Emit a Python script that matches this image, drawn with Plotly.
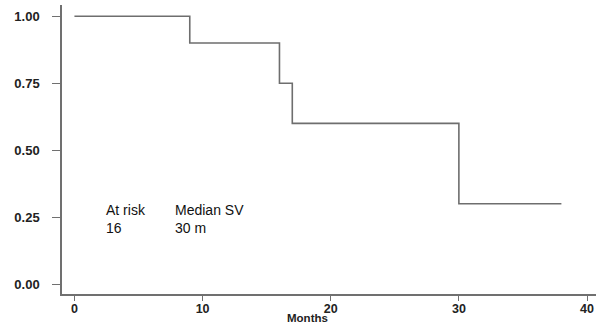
import plotly.graph_objects as go

# Kaplan-Meier step data
months = [0, 9, 16, 17, 30, 38]
survival = [1.00, 0.90, 0.75, 0.60, 0.30, 0.30]

x_ticks = [0, 10, 20, 30, 40]
y_ticks = [0.00, 0.25, 0.50, 0.75, 1.00]
y_tick_labels = ["0.00", "0.25", "0.50", "0.75", "1.00"]

at_risk_label = "At risk"
at_risk_value = "16"
median_label = "Median SV"
median_value = "30 m"

fig = go.Figure()
fig.add_trace(go.Scatter(
    x=months, y=survival, mode="lines",
    line=dict(shape="hv", color="#6e6e6e", width=1.6),
    hoverinfo="skip", showlegend=False,
))

fig.add_annotation(x=2.3, y=0.315, xref="x", yref="y", xanchor="left", yanchor="top",
                   text=f"{at_risk_label}<br>{at_risk_value}", showarrow=False, align="left",
                   font=dict(family="Arial, Liberation Sans", size=14, color="#111"))
fig.add_annotation(x=7.7, y=0.315, xref="x", yref="y", xanchor="left", yanchor="top",
                   text=f"{median_label}<br>{median_value}", showarrow=False, align="left",
                   font=dict(family="Arial, Liberation Sans", size=14, color="#111"))
fig.add_annotation(x=18.2, y=0, xref="x", yref="paper", yshift=-16, xanchor="center", yanchor="top",
                   text="<b>Months</b>", showarrow=False,
                   font=dict(family="Arial, Liberation Sans", size=11.5, color="#222"))

fig.update_xaxes(range=[-0.97, 40.7], tickvals=x_ticks, ticks="outside", ticklen=5,
                 tickcolor="#707070", showline=True, linecolor="#707070", linewidth=1.5,
                 showgrid=False, zeroline=False, automargin=False, ticklabelstandoff=-3,
                 tickfont=dict(family="Arial, Liberation Sans", size=12.5, color="#222", weight="bold"))
fig.update_yaxes(range=[-0.037, 1.042], tickvals=y_ticks, ticktext=y_tick_labels,
                 ticks="outside", ticklen=8, tickcolor="#707070",
                 showline=True, linecolor="#707070", linewidth=1.5,
                 showgrid=False, zeroline=False, ticklabelstandoff=10, automargin=False,
                 tickfont=dict(family="Arial, Liberation Sans", size=13, color="#222", weight="bold"))

fig.update_layout(
    width=596, height=325,
    margin=dict(l=62, r=0, t=5, b=31, autoexpand=False),
    plot_bgcolor="white", paper_bgcolor="white",
)

fig.write_html("out.html", config={"displayModeBar": False},
               post_script="document.body.style.margin='0';document.body.style.overflow='hidden';")
